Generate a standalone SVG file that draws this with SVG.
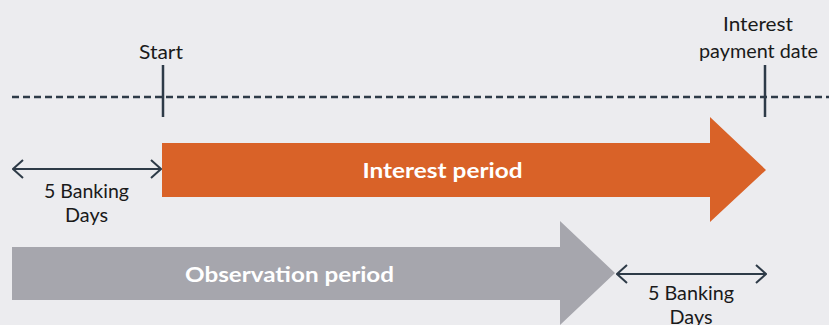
<svg xmlns="http://www.w3.org/2000/svg" width="829" height="325" viewBox="0 0 829 325">
<defs>
<style>
.lbl{font-family:Lato,"Open Sans","Liberation Sans",sans-serif;font-size:19.5px;fill:#1a1a1a;text-anchor:middle}
.big{font-family:Lato,"Open Sans","Liberation Sans",sans-serif;font-size:21px;font-weight:bold;fill:#ffffff;text-anchor:middle}
.tick{stroke:#2e3b48;stroke-width:2.5}
.dim{stroke:#2e3b48;stroke-width:2;fill:none}
</style>
<marker id="chev" viewBox="0 0 12 20" refX="11" refY="10" markerWidth="12" markerHeight="20" markerUnits="userSpaceOnUse" orient="auto-start-reverse">
<path d="M1,1 L11,10 L1,19" fill="none" stroke="#2e3b48" stroke-width="2"/>
</marker>
</defs>
<rect width="829" height="325" fill="#ececef"/>
<g id="connectors">
<line x1="12" y1="97" x2="829" y2="97" stroke="#2e3b48" stroke-width="2.5" stroke-dasharray="7,4"/>
<line class="tick" x1="163" y1="65" x2="163" y2="117"/>
<line class="tick" x1="765" y1="65" x2="765" y2="117"/>
<line class="dim" x1="13" y1="169" x2="161" y2="169" marker-start="url(#chev)" marker-end="url(#chev)"/>
<line class="dim" x1="617" y1="274" x2="766" y2="274" marker-start="url(#chev)" marker-end="url(#chev)"/>
</g>
<g id="start-label"><text class="lbl" x="161" y="59" textLength="44" lengthAdjust="spacingAndGlyphs">Start</text></g>
<g id="payment-label"><text class="lbl" x="758" y="31" textLength="70" lengthAdjust="spacingAndGlyphs">Interest</text><text class="lbl" x="758.5" y="58" textLength="119" lengthAdjust="spacingAndGlyphs">payment date</text></g>
<g id="interest-period">
<polygon points="162,143 710,143 710,117 766,170 710,222 710,197 162,197" fill="#d96228"/>
<text class="big" x="442.5" y="177.5" textLength="160" lengthAdjust="spacingAndGlyphs">Interest period</text>
</g>
<g id="observation-period">
<polygon points="12,247 560,247 560,221 615,273 560,325 560,300 12,300" fill="#a6a6ad"/>
<text class="big" x="289.5" y="281.5" textLength="209" lengthAdjust="spacingAndGlyphs">Observation period</text>
</g>
<g id="banking-days-1"><text class="lbl" x="86.5" y="197.5" textLength="85" lengthAdjust="spacingAndGlyphs">5 Banking</text><text class="lbl" x="86.5" y="222" textLength="43" lengthAdjust="spacingAndGlyphs">Days</text></g>
<g id="banking-days-2"><text class="lbl" x="691" y="299.5" textLength="86" lengthAdjust="spacingAndGlyphs">5 Banking</text><text class="lbl" x="691" y="324" textLength="43" lengthAdjust="spacingAndGlyphs">Days</text></g>
</svg>
